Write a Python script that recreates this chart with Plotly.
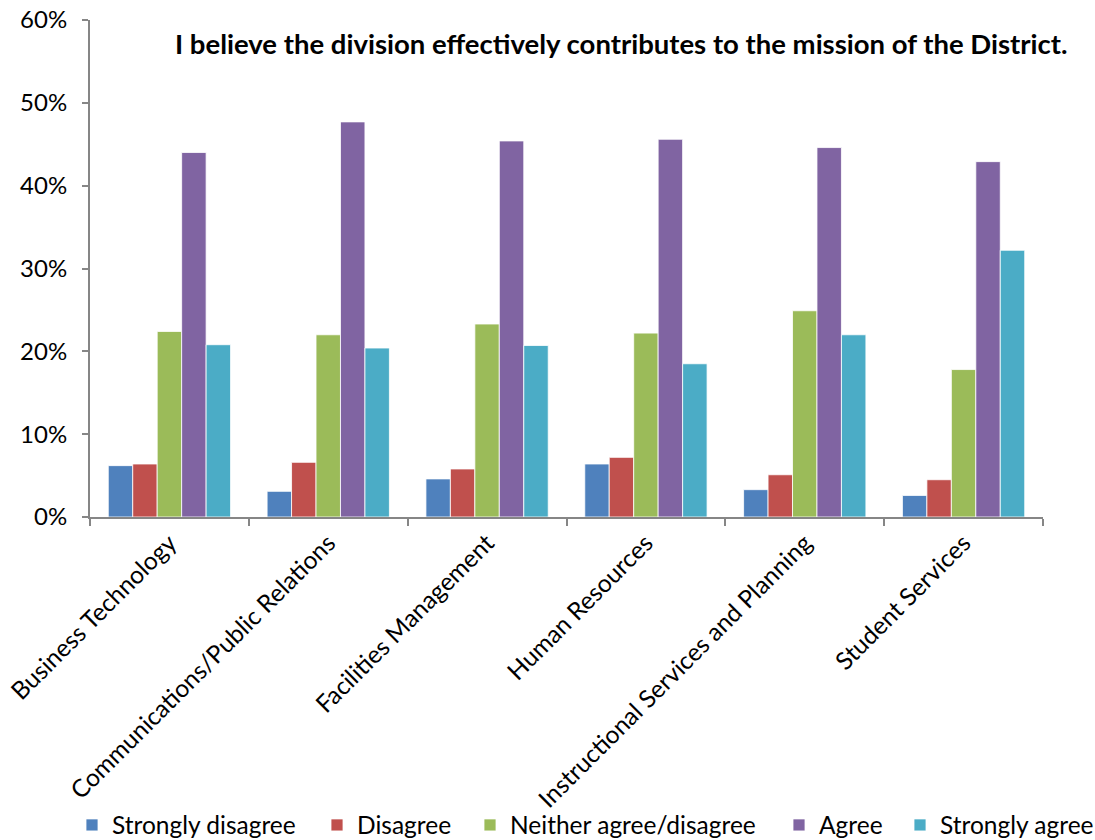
import plotly.graph_objects as go

categories = ["Business Technology", "Communications/Public Relations", "Facilities Management",
              "Human Resources", "Instructional Services and Planning", "Student Services"]
strongly_disagree = [6.2, 3.1, 4.6, 6.4, 3.3, 2.6]
disagree = [6.4, 6.6, 5.8, 7.2, 5.1, 4.5]
neither = [22.4, 22.0, 23.3, 22.2, 24.9, 17.8]
agree = [44.0, 47.7, 45.4, 45.6, 44.6, 42.9]
strongly_agree = [20.8, 20.4, 20.7, 18.5, 22.0, 32.2]

series = [
    ("Strongly disagree", strongly_disagree, "#4F81BD"),
    ("Disagree", disagree, "#C0504D"),
    ("Neither agree/disagree", neither, "#9BBB59"),
    ("Agree", agree, "#8064A2"),
    ("Strongly agree", strongly_agree, "#4BACC6"),
]
legend_px = [90, 335, 488, 797, 918]   # left edge of each legend swatch (pixels)

font = "Lato, 'Open Sans', sans-serif"
L, R, T, B = 90, 52, 20, 323
W, H = 1095, 840
pw, ph = W - L - R, H - T - B

fig = go.Figure()
layout_legends = {}
for i, (name, vals, col) in enumerate(series):
    lg = "legend" if i == 0 else f"legend{i+1}"
    fig.add_trace(go.Bar(x=categories, y=[v / 100 for v in vals], name=name, legend=lg,
                         marker=dict(color=col, line=dict(color="white", width=0.8))))
    layout_legends[lg] = dict(orientation="h", x=(legend_px[i] - 18 - L) / pw, xanchor="left",
                              y=-(825 - (T + ph)) / ph,
                              yanchor="middle", font=dict(size=24.5), itemwidth=30,
                              bgcolor="rgba(0,0,0,0)")

fig.update_layout(
    width=W, height=H,
    margin=dict(l=L, r=R, t=T, b=B, autoexpand=False),
    paper_bgcolor="white", plot_bgcolor="white",
    barmode="group", bargap=0.23, bargroupgap=0,
    font=dict(family=font, size=22, color="black"),
    showlegend=True,
    annotations=[dict(text="<b>I believe the division effectively contributes to the mission of the District.</b>",
                      xref="paper", yref="paper", x=0.558, y=0.952, xanchor="center", yanchor="middle",
                      showarrow=False, font=dict(size=27.5, family=font))],
    **layout_legends,
)
fig.update_yaxes(range=[0, 0.6], tickvals=[0, 0.1, 0.2, 0.3, 0.4, 0.5, 0.6], tickformat=".0%",
                 showgrid=False, showline=True, linecolor="#868686", linewidth=2,
                 ticks="outside", ticklen=6, tickcolor="#868686", tickwidth=2,
                 zeroline=False, tickfont=dict(size=24), automargin=False, ticklabelstandoff=10)
fig.update_xaxes(showline=True, linecolor="#868686", linewidth=2, tickangle=-45,
                 ticks="outside", tickson="boundaries", ticklen=7, tickcolor="#868686", tickwidth=2,
                 tickfont=dict(size=24.5), showgrid=False, automargin=False)

fig.write_html("out.html")
